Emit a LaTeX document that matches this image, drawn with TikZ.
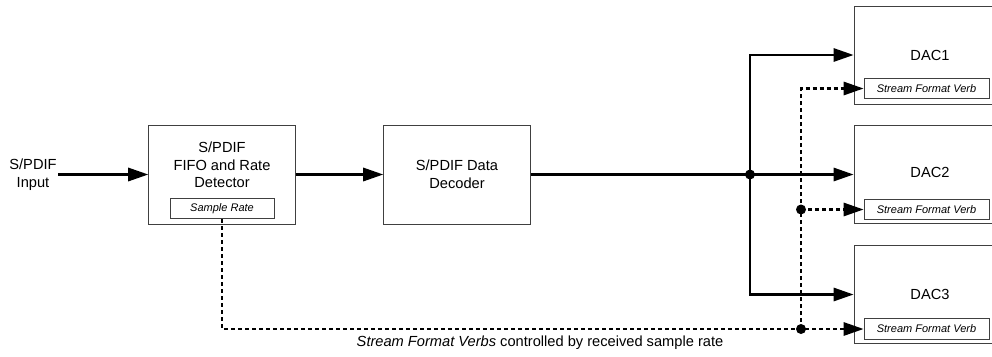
\documentclass[tikz,border=0pt]{standalone}
\usepackage{fontspec}
\setmainfont{Liberation Sans}
\usepackage{tikz}
\usetikzlibrary{arrows.meta, positioning, calc}

\begin{document}
\begin{tikzpicture}[
  x=0.03cm, y=-0.03cm,
  font=\fontsize{12.5}{15}\selectfont,
  blockbox/.style={
    rectangle,
    draw=black!75,
    line width=0.8pt,
    minimum width=4.4cm,
    minimum height=2.97cm,
    inner sep=0pt
  },
  dacbox/.style={
    blockbox,
    minimum width=4.56cm,
    minimum height=2.94cm
  },
  fieldbox/.style={
    rectangle,
    draw=black!75,
    line width=0.8pt,
    minimum height=0.62cm,
    inner sep=0pt,
    font=\fontsize{9.4}{11}\selectfont\itshape
  },
  flowarrow/.style={
    -{Triangle[length=0.6cm,width=0.4cm]},
    line width=1.8pt,
    draw=black
  },
  ctrlarrow/.style={
    flowarrow,
    dash pattern=on 0.12cm off 0.09cm
  },
  tapdot/.style={
    circle,
    fill=black,
    inner sep=0pt,
    minimum size=0.3cm
  }
]
\clip (0,0) rectangle (992,356);

% input and processing blocks
\node[align=center, inner sep=1pt] (input) at (33,174.5) {S/PDIF\\Input};

\node[blockbox] (fifo) at (222,174.5) {};
\node[align=center] (fifotext) at (222,165) {S/PDIF\\FIFO and Rate\\Detector};
\node[fieldbox, minimum width=3.12cm] (rate) at (222,208.5) {Sample Rate};

\node[blockbox] (dec) at (457,174.5) {};
\node[align=center] (dectext) at (457,174.5) {S/PDIF Data\\Decoder};

% DAC blocks
\node[dacbox] (dac1) at (930,55) {};
\node (dac1text) at (930,55) {DAC1};
\node[fieldbox, minimum width=3.75cm] (sfv1) at (926.5,88.5) {Stream Format Verb};

\node[dacbox] (dac2) at (930,174.5) {};
\node (dac2text) at (930,172) {DAC2};
\node[fieldbox, minimum width=3.75cm] (sfv2) at (926.5,209.5) {Stream Format Verb};

\node[dacbox] (dac3) at (930,294.5) {};
\node (dac3text) at (930,294.5) {DAC3};
\node[fieldbox, minimum width=3.75cm] (sfv3) at (926.5,329) {Stream Format Verb};

\node (note) at (540,343) {\textit{Stream Format Verbs} controlled by received sample rate};

% data path
\coordinate (split) at (750,174.5);
\draw[flowarrow] (input) -- (fifo);
\draw[flowarrow] (fifo) -- (dec);
\draw[flowarrow] (dec) -- (dac2);
\draw[flowarrow] (split) |- (dac1.west);
\draw[flowarrow] (split) |- (dac3.west);
\node[tapdot] (splitdot) at (split) {};

% rate control path
\coordinate (bus) at (801,0);
\coordinate (bus3) at (bus |- sfv3.west);
\coordinate (bus2) at (bus |- sfv2.west);
\draw[ctrlarrow] (rate.south) |- (sfv3.west);
\draw[ctrlarrow] (bus3) |- (sfv1.west);
\draw[ctrlarrow] (bus2) -- (sfv2.west);
\node[tapdot] (tap3) at (bus3) {};
\node[tapdot] (tap2) at (bus2) {};

\end{tikzpicture}
\end{document}
